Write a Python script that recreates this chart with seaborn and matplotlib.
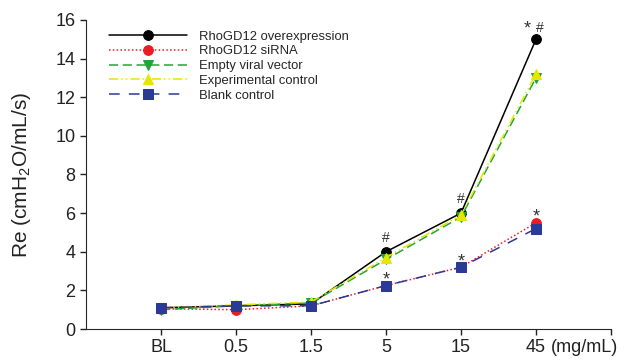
import numpy as np
import pandas as pd
import matplotlib
matplotlib.use('Agg')
import matplotlib.pyplot as plt
import seaborn as sns

# values
doses = ['BL', '0.5', '1.5', '5', '15', '45']
overexpression = [1.1, 1.2, 1.3, 4.0, 6.0, 15.0]
sirna = [1.05, 1.0, 1.2, 2.25, 3.2, 5.5]
empty_vector = [1.0, 1.2, 1.35, 3.6, 5.8, 13.0]
exp_control = [1.1, 1.25, 1.4, 3.7, 5.9, 13.2]
blank_control = [1.1, 1.2, 1.2, 2.25, 3.2, 5.2]

series_names = ['RhoGD12 overexpression', 'RhoGD12 siRNA', 'Empty viral vector',
                'Experimental control', 'Blank control']
series_values = [overexpression, sirna, empty_vector, exp_control, blank_control]

# significance marks: (dose index + shift, baseline value)
hash_marks = [(3, 4.49), (4, 6.5), (5.05, 15.4)]
star_marks = [(3, 2.3), (4, 3.26), (5, 5.56), (4.89, 15.32)]

sns.set_style('ticks')
plt.rcParams['font.family'] = ['Liberation Sans', 'DejaVu Sans']
plt.rcParams['mathtext.fontset'] = 'custom'
plt.rcParams['mathtext.rm'] = 'Liberation Sans'
plt.rcParams['mathtext.it'] = 'Liberation Sans'

colors = ['black', '#ec1c24', '#1fa53a', '#e6e600', '#2b3a94']
markers = ['o', 'o', 'v', '^', 's']
styles = ['-', (0, (1, 1.5)), (0, (6, 3)), (0, (6, 2, 1, 2, 1, 2)), (0, (7, 6))]

fig = plt.figure(figsize=(6.33, 3.63), dpi=100)
ax = fig.add_axes([86 / 633, 34 / 363, 525 / 633, 309 / 363])

pos = np.arange(len(doses))
for name, vals, c, m, ls in zip(series_names, series_values, colors, markers, styles):
    df = pd.DataFrame({'x': pos, 'y': vals})
    sns.lineplot(data=df, x='x', y='y', ax=ax, color=c, marker=m, markersize=7,
                 markeredgecolor=c, linewidth=1.1, linestyle=ls, label=name)

for x, v in hash_marks:
    ax.text(x, v, '#', ha='center', va='baseline', fontsize=10, color='#333333')
for x, v in star_marks:
    ax.text(x, v, '*', ha='center', va='baseline', fontsize=13, color='#333333')

ax.set_xlim(-1, 6)
ax.set_ylim(0, 16)
ax.set_xticks(pos)
ax.set_xticklabels(doses)
ax.set_xticks([6], minor=True)
ax.set_yticks(np.arange(0, 17, 2))
ax.tick_params(axis='both', which='both', labelsize=13, length=4, width=1,
               pad=3.5, colors='#222222')
ax.set_xlabel('')
ax.set_ylabel('Re (cmH$_2$O/mL/s)', fontsize=15, color='#222222', labelpad=16)
ax.annotate('(mg/mL)', xy=(5.2, 0), xycoords=('data', 'axes fraction'),
            xytext=(0, -7.5), textcoords='offset points',
            ha='left', va='top', fontsize=13, color='#222222')
sns.despine(ax=ax)

ax.legend(loc='upper left', bbox_to_anchor=(0.024, 1.0), frameon=False, fontsize=9.4,
          handlelength=6, handletextpad=0.9, labelspacing=0.2, borderaxespad=0.4)

fig.savefig('out.png', dpi=100)
